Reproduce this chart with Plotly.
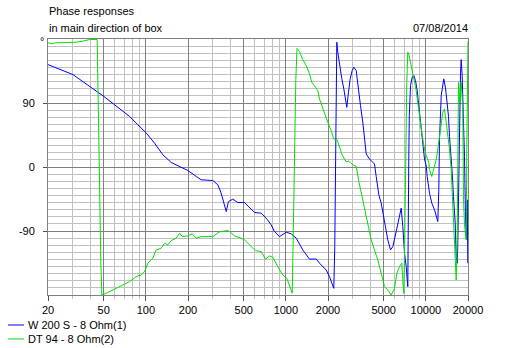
import plotly.graph_objects as go

# ---------------- data ----------------
X_TICKS = [20, 50, 100, 200, 500, 1000, 2000, 5000, 10000, 20000]
X_TICK_TEXT = ["20", "50", "100", "200", "500", "1000", "2000", "5000", "10000", "20000"]
X_MINOR = [30, 40, 60, 70, 80, 90, 300, 400, 600, 700, 800, 900,
           3000, 4000, 6000, 7000, 8000, 9000]
Y_TICKS = [-90, 0, 90]
Y_TICK_TEXT = ["-90", "0", "90"]

SERIES_NAMES = ["W 200 S - 8 Ohm(1)", "DT 94 - 8 Ohm(2)"]

BLUE_F = [20, 30.1, 50, 76.4, 87.6, 100.6, 115.3, 132, 151.7, 174, 199.4, 229, 248.6,
          300.8, 326.6, 345, 358.6, 375, 389, 418, 453.6, 506.6, 597, 666.6, 724, 786,
          829.6, 900.8, 1006, 1092, 1186, 1321, 1476, 1647, 1740, 1941, 2050, 2200,
          2236, 2274, 2312, 2350, 2416, 2510, 2594, 2667, 2725, 2801, 2881, 2977, 3056,
          3180, 3266, 3414, 3546, 3646, 3750, 3958, 4178, 4296, 4418, 4612, 4797, 5066,
          5348, 5592, 5808, 6140, 6482, 6666, 6844, 7038, 7238, 7430, 7552, 7616, 7768,
          7988, 8202, 8434, 8672, 8906, 9158, 9510, 9780, 10058, 10224, 10618, 11026,
          11528, 11970, 12170, 12372, 12514, 12872, 13214, 13432, 13814, 14114, 14512,
          14756, 15172, 15424, 15758, 16206, 16474, 16748, 16910, 17192, 17390, 17678,
          17882, 18180, 18574, 18882, 19192, 19512, 19738, 19936]
BLUE_P = [144, 130, 99.4, 71.2, 59.5, 47.8, 33.7, 17.3, 6.4, 0.8, -4.9, -13.3, -18,
          -19, -25, -36.7, -50.8, -62.6, -48.5, -45.2, -50, -50, -64, -64.9, -71.9, -81.4,
          -90.8, -97.9, -91.7, -94, -100, -116.6, -129.7, -129.3, -135.3, -144.8, -154.2, -170.6,
          -112, 117.3, 175.5, 161.4, 142.7, 124.3, 109.8, 91, 83.9, 105, 123.9, 135.6, 140.3,
          135.6, 114.5, 86.3, 62.8, 39.4, 18.2, 11.2, 7.4, 4.2, -13.3, -39.1, -50.8, -79,
          -102.5, -116.6, -112, -90.8, -69.7, -57.8, -83.8, -121.2, -140.1, -168.3, 10, 72.2, 114.5,
          126.2, 128.6, 121.5, 107.4, 86.3, 62.8, 34.6, 11.2, 1.8, -13.3, -36.7, -50.8,
          -60.2, -74.3, -76.7, -32.1, 38.4, 100.4, 119.1, 123.9, 111.2, 92.4, 71.2,
          43, 14.9, -8.5, -41.5, -79, -126, -135.3, -107.2, 5.6, 99.4, 132.4,
          151.1, 127.6, 61.9, 14.9, -69.7, -102.5, -46.1, -135.3]

GREEN_F = [20, 21.6, 22.3, 31.8, 35.5, 39.6, 44.9, 45.4, 46.1, 46.9, 47.7, 48.5, 52.1,
           58.1, 64.8, 76.4, 85.3, 92.6, 97.8, 103.3, 112.1, 118.6, 128.7, 135.9, 143.4,
           151.7, 164.7, 174, 181.8, 199.4, 214.3, 229, 248.6, 300.8, 335.8, 384.8, 395.8,
           429.6, 479.8, 506.6, 565.6, 607, 666.6, 715.4, 764, 806.8, 875.6, 950.8, 1016,
           1062, 1110, 1121, 1139, 1158, 1178, 1201, 1251, 1321, 1397, 1476, 1532, 1602,
           1691, 1740, 1836, 1941, 1993, 2108, 2200, 2326, 2388, 2510, 2624, 2698, 2801,
           2896, 3006, 3180, 3304, 3454, 3646, 3848, 4070, 4296, 4536, 4797, 5066, 5348,
           5656, 5970, 6200, 6482, 6732, 6844, 6956, 7038, 7156, 7310, 7430, 7552, 7768,
           7988, 8202, 8434, 8672, 8906, 9158, 9418, 9780, 10058, 10496, 10618, 11026,
           11396, 11856, 12170, 12514, 12872, 13214, 13588, 13976, 14348, 14756, 15172,
           15578, 16018, 16284, 16474, 16748, 16910, 17106, 17476, 17882, 18366, 18574,
           18882, 19414, 19608, 19834, 20000]
GREEN_P = [174.6, 173.2, 174.6, 175.5, 176.9, 179.3, 179.3, 134.6, 43, -46.1, -135.3, -180, -177.6,
           -173, -168.3, -161.3, -154.2, -151.8, -147.2, -135.3, -128.3, -116.6, -114.2, -107.2, -109.5,
           -103.5, -100.1, -93.1, -97.9, -96.9, -94, -100.1, -97.9, -97.9, -91.2, -89.4, -90.8,
           -96.9, -100.1, -102.5, -111.9, -117.6, -119, -129.7, -125, -126.9, -140.1, -151.8, -156.5,
           -168.3, -177.6, -135.3, -48.5, 33.7, 122.9, 166.6, 162.4, 151.1, 142.7, 131, 119.1, 114.5,
           107.4, 95.7, 81.7, 69.8, 62.8, 51.1, 39.4, 38, 29.9, 18.2, 11.2, 7.4, 8.1,
           6.4, 3.2, 0.8, -18, -36.7, -60.2, -81.4, -102.5, -116.6, -130.7, -149.4, -168.3, -173,
           -180, -170.6, -149.4, -140.1, -135.3, -158.9, -177.6, -120.8, 34.6, 119.1, 161.4, 159.1, 147.3,
           133.2, 123.9, 114.5, 95.7, 81.7, 62.8, 44, 25.3, 15.9, 6.4, -3.9, -13.3,
           -3.9, 10.2, 25.3, 44, 58.1, 76.9, 81.7, 62.8, 44, 25.3, -3.9,
           -60.2, -107.2, -130.7, -158.9, -102.5, -13.3, 119.1, 91, 119.1, 81.7, -46.1,
           -81.4, -102.5, 24.3, 122.9, 176.9]

TITLE_1 = "Phase responses"
TITLE_2 = "in main direction of box"
DATE_TEXT = "07/08/2014"
UNIT_TEXT = "°"

# ---------------- layout helpers ----------------
W, H = 515, 348
ML, MR, MT, MB = 48, 47, 39, 53
PW, PH = W - ML - MR, H - MT - MB
FONT = "Liberation Sans, Arial, sans-serif"
FS = 11


def px(xp):
    return (xp - ML) / PW


def py(yp):
    return (H - MB - yp) / PH


BLUE = "#0000ff"
GREEN = "#00e000"

fig = go.Figure()
fig.add_trace(go.Scatter(x=BLUE_F, y=BLUE_P, mode="lines", name=SERIES_NAMES[0],
                         line=dict(color=BLUE, width=1)))
fig.add_trace(go.Scatter(x=GREEN_F, y=GREEN_P, mode="lines", name=SERIES_NAMES[1],
                         line=dict(color=GREEN, width=1)))

fig.update_layout(
    width=W, height=H,
    margin=dict(l=ML, r=MR, t=MT, b=MB, pad=0),
    paper_bgcolor="white", plot_bgcolor="white",
    showlegend=False,
    font=dict(family=FONT, size=FS, color="black"),
)

fig.update_xaxes(
    type="log", range=[1.30103, 4.30103],
    tickmode="array", tickvals=X_TICKS, ticktext=X_TICK_TEXT,
    ticks="outside", ticklen=5, tickcolor="#505050", tickwidth=1,
    showgrid=True, gridcolor="#808080", gridwidth=1,
    minor=dict(tickmode="array", tickvals=X_MINOR, showgrid=True,
               gridcolor="#c0c0c0", gridwidth=1, ticks="outside",
               ticklen=3, tickcolor="#c0c0c0"),
    showline=True, linecolor="#808080", linewidth=1, mirror=True,
    zeroline=False, ticklabelstandoff=0,
    tickfont=dict(family=FONT, size=FS, color="black"),
)
fig.update_yaxes(
    range=[-180, 180],
    tickmode="array", tickvals=Y_TICKS, ticktext=Y_TICK_TEXT,
    ticks="outside", ticklen=4, tickcolor="#505050", tickwidth=1,
    showgrid=True, gridcolor="#808080", gridwidth=1,
    minor=dict(dtick=10, tick0=0, showgrid=True, gridcolor="#c0c0c0",
               gridwidth=1, ticks=""),
    showline=True, linecolor="#808080", linewidth=1, mirror=True,
    zeroline=False, ticklabelstandoff=6,
    tickfont=dict(family=FONT, size=FS, color="black"),
)

ann = [
    dict(text=TITLE_1, x=px(47), y=py(11), xanchor="left", yanchor="middle"),
    dict(text=TITLE_2, x=px(47), y=py(28), xanchor="left", yanchor="middle"),
    dict(text=DATE_TEXT, x=px(470), y=py(28), xanchor="right", yanchor="middle"),
    dict(text=UNIT_TEXT, x=px(41.5), y=py(41), xanchor="center", yanchor="middle"),
    dict(text=SERIES_NAMES[0], x=px(26), y=py(325), xanchor="left", yanchor="middle"),
    dict(text=SERIES_NAMES[1], x=px(26), y=py(339), xanchor="left", yanchor="middle"),
]
for a in ann:
    fig.add_annotation(xref="paper", yref="paper", showarrow=False,
                       font=dict(family=FONT, size=FS, color="black"), **a)

for yy, col in [(325, BLUE), (339, GREEN)]:
    fig.add_shape(type="line", xref="paper", yref="paper",
                  x0=px(8), x1=px(24), y0=py(yy), y1=py(yy),
                  line=dict(color=col, width=1))

fig.write_html("out.html")
